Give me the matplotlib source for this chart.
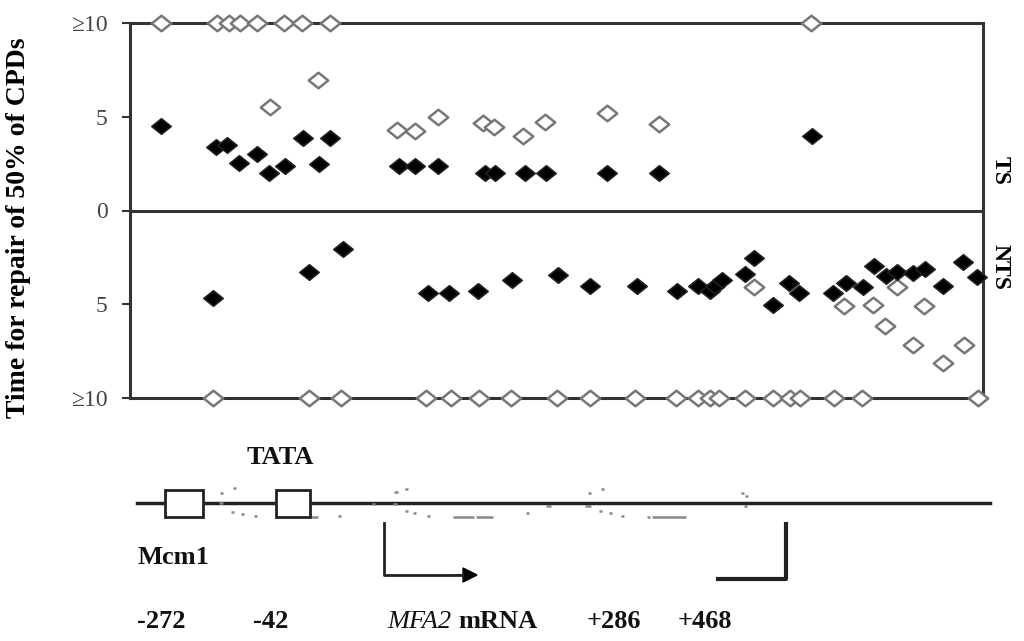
import matplotlib
matplotlib.use("Agg")
import matplotlib.pyplot as plt
from matplotlib.path import Path
from matplotlib.patches import Rectangle, FancyArrow
import numpy as np

plt.rcParams['font.family'] = ['Liberation Serif', 'DejaVu Serif']

# positions along the MFA2 region (arbitrary units)
# TS strand, repair time (h); 10 means ">=10"
ts_open_x = [161, 217, 229, 240, 257, 284, 302, 330, 811,
             270, 318, 397, 415, 438, 483, 494, 523, 545, 607, 659]
ts_open_y = [10, 10, 10, 10, 10, 10, 10, 10, 10,
             5.5, 6.95, 4.3, 4.25, 5.0, 4.65, 4.45, 4.0, 4.7, 5.2, 4.6]
ts_fill_x = [161, 216, 227, 239, 257, 269, 285, 303, 319, 330,
             399, 415, 438, 485, 495, 525, 546, 607, 659, 812]
ts_fill_y = [4.5, 3.4, 3.5, 2.55, 3.0, 2.0, 2.35, 3.85, 2.5, 3.85,
             2.35, 2.35, 2.35, 2.0, 2.0, 2.0, 2.0, 2.0, 2.0, 4.0]

# NTS strand, repair time (h), drawn below zero
nts_fill_x = [213, 309, 343, 428, 449, 478, 512, 558, 590, 637, 677, 698,
              710, 715, 722, 745, 754, 773, 789, 799, 833, 846, 863, 874,
              886, 897, 913, 925, 943, 963, 977]
nts_fill_y = [4.65, 3.3, 2.05, 4.4, 4.4, 4.3, 3.7, 3.45, 4.05, 4.05, 4.3, 4.05,
              4.3, 4.0, 3.7, 3.4, 2.55, 5.05, 3.85, 4.4, 4.4, 3.85, 4.1, 2.95,
              3.5, 3.3, 3.35, 3.1, 4.05, 2.75, 3.55]
nts_open_x = [754, 844, 873, 885, 897, 924, 913, 943, 964,
              213, 309, 341, 426, 451, 479, 511, 557, 590, 635, 676, 698,
              710, 719, 745, 773, 790, 800, 834, 862, 978]
nts_open_y = [4.1, 5.1, 5.05, 6.15, 4.1, 5.1, 7.15, 8.15, 7.15,
              10, 10, 10, 10, 10, 10, 10, 10, 10, 10, 10, 10,
              10, 10, 10, 10, 10, 10, 10, 10, 10]

tick_vals = [10, 5, 0, -5, -10]
tick_labels = ["≥10", "5", "0", "5", "≥10"]

diamond = Path([(-1, 0), (0, 0.8), (1, 0), (0, -0.8), (-1, 0)],
               [Path.MOVETO, Path.LINETO, Path.LINETO, Path.LINETO, Path.CLOSEPOLY])

fig = plt.figure(figsize=(10.24, 6.41), dpi=100)
W, H = 1024, 641
ax = fig.add_axes([130 / W, 1 - 398 / H, (983 - 130) / W, (398 - 23) / H])
ax.set_xlim(130, 983)
ax.set_ylim(-10, 10)

ax.axhline(0, color="#333333", lw=2.2, zorder=1)
for s in ax.spines.values():
    s.set_color("#333333")
    s.set_linewidth(2.2)
ax.set_xticks([])
ax.set_yticks(tick_vals)
ax.set_yticklabels(tick_labels, fontsize=17, color="#444444")
ax.tick_params(axis="y", direction="out", length=6, width=1.5, color="#333333", pad=10)

ax.plot(ts_open_x, ts_open_y, linestyle="none", marker=diamond, ms=14,
        mfc="white", mec="#777777", mew=1.8, clip_on=False, zorder=3)
ax.plot(ts_fill_x, ts_fill_y, linestyle="none", marker=diamond, ms=14,
        mfc="black", mec="#222222", mew=1.2, clip_on=False, zorder=4)
ax.plot(nts_open_x, -np.array(nts_open_y), linestyle="none", marker=diamond, ms=14,
        mfc="white", mec="#777777", mew=1.8, clip_on=False, zorder=3)
ax.plot(nts_fill_x, -np.array(nts_fill_y), linestyle="none", marker=diamond, ms=14,
        mfc="black", mec="#222222", mew=1.2, clip_on=False, zorder=4)

fig.text(19 / W, 1 - 228 / H, "Time for repair of 50% of CPDs", rotation=90,
         fontsize=20, fontweight="bold", ha="center", va="center")
fig.text(1000 / W, 1 - 170 / H, "TS", rotation=270, fontsize=17, fontweight="bold",
         ha="center", va="center")
fig.text(1000 / W, 1 - 267 / H, "NTS", rotation=270, fontsize=17, fontweight="bold",
         ha="center", va="center")

# gene map underneath, in pixel units
gx = fig.add_axes([0, 0, 1, 1])
gx.set_xlim(0, W)
gx.set_ylim(H, 0)
gx.axis("off")
gx.patch.set_alpha(0)

gx.plot([137, 990], [503, 503], color="#222222", lw=2.5)
for x0, x1 in [(165, 203), (276, 310)]:
    gx.add_patch(Rectangle((x0, 490), x1 - x0, 27, fc="white", ec="#222222", lw=2, zorder=3))

faint = [(220, 493, 223, 493), (233, 488, 236, 488), (219, 503, 223, 503),
         (231, 512, 234, 512), (241, 514, 244, 514), (254, 516, 257, 516),
         (311, 517, 318, 517), (338, 516, 341, 516), (372, 504, 375, 504),
         (393, 504, 397, 504), (394, 492, 398, 492), (405, 489, 408, 489),
         (405, 511, 408, 511), (413, 513, 416, 513), (427, 516, 430, 516),
         (453, 517, 474, 517), (476, 517, 493, 517), (526, 513, 529, 513),
         (546, 506, 551, 506), (585, 506, 591, 506), (588, 493, 591, 493),
         (601, 489, 604, 489), (599, 511, 602, 511), (609, 513, 612, 513),
         (621, 516, 624, 516), (647, 517, 650, 517), (652, 517, 686, 517),
         (741, 493, 744, 493), (745, 496, 748, 496), (744, 506, 747, 506)]
for a, b, c, d in faint:
    gx.plot([a, c], [b, d], color="#888888", lw=1.8, solid_capstyle="butt")

gx.plot([384, 384, 462], [523, 575, 575], color="#222222", lw=2)
gx.add_patch(FancyArrow(455, 575, 8, 0, width=0, head_width=14, head_length=14,
                        length_includes_head=False, color="black"))
gx.plot([718, 786, 786], [579, 579, 524], color="#222222", lw=3)

lab = dict(fontsize=19, fontweight="bold", va="center", ha="left", color="#111111")
gx.text(247, 457, "TATA", **lab)
gx.text(137, 558, "Mcm1", **lab)
gx.text(137, 622, "-272", **lab)
gx.text(253, 622, "-42", **lab)
gx.text(387, 622, "MFA2", style="italic", fontsize=19, va="center", ha="left",
        color="#111111")
gx.text(458, 622, "mRNA", **lab)
gx.text(587, 622, "+286", **lab)
gx.text(678, 622, "+468", **lab)

fig.savefig("out.png", dpi=100)
